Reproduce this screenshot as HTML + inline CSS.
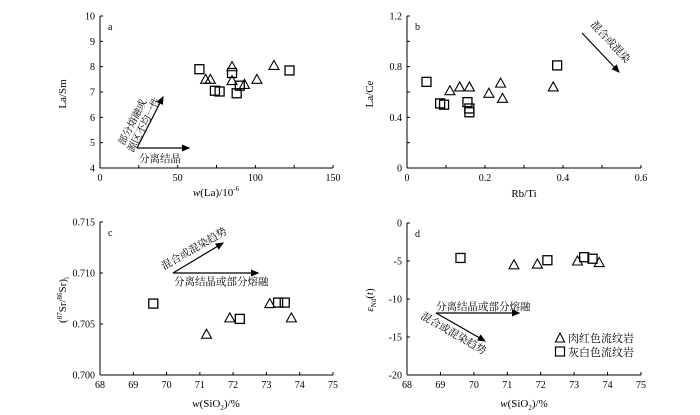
<!DOCTYPE html>
<html><head><meta charset="utf-8"><style>
body{margin:0;background:#fff}
svg{display:block;font-family:"Liberation Serif","Noto Serif CJK SC",serif}
</style></head><body>
<svg id="s" width="700" height="415" viewBox="0 0 700 415">
</svg>
<script>
// Panel a
const aTriX=[68,71,85,85,93,101,112], aTriY=[7.5,7.5,8.0,7.45,7.3,7.5,8.05];
const aSqX=[64,74,77,85,90,88,122], aSqY=[7.9,7.05,7.02,7.75,7.25,6.95,7.85];
const aXT=[0,50,100,150], aYT=[4,5,6,7,8,9,10];
// Panel b
const bTriX=[0.11,0.135,0.16,0.21,0.24,0.245,0.375], bTriY=[0.61,0.64,0.64,0.59,0.67,0.55,0.64];
const bSqX=[0.05,0.085,0.095,0.155,0.16,0.16,0.385], bSqY=[0.68,0.51,0.50,0.52,0.47,0.44,0.81];
const bXT=[0,0.2,0.4,0.6], bXTL=["0","0.2","0.4","0.6"], bYT=[0,0.4,0.8,1.2], bYTL=["0","0.4","0.8","1.2"];
// Panel c
const cTriX=[71.2,71.9,73.1,73.75], cTriY=[0.704,0.7056,0.707,0.7056];
const cSqX=[69.6,72.2,73.35,73.55], cSqY=[0.707,0.7055,0.7071,0.7071];
const cXT=[68,69,70,71,72,73,74,75], cYT=[0.700,0.705,0.710,0.715], cYTL=["0.700","0.705","0.710","0.715"];
// Panel d
const dTriX=[71.2,71.9,73.1,73.75], dTriY=[-5.5,-5.4,-5.0,-5.2];
const dSqX=[69.6,72.2,73.3,73.55], dSqY=[-4.6,-4.9,-4.5,-4.7];
const dXT=[68,69,70,71,72,73,74,75], dYT=[-20,-15,-10,-5,0];

const svg=document.getElementById('s');const NS='http://www.w3.org/2000/svg';
function el(t,a,txt,name){const e=document.createElementNS(NS,t);for(const k in a)e.setAttribute(k,a[k]);if(txt!=null)e.textContent=txt;


svg.appendChild(e);return e;}
function panel(p){
 const X=v=>p.x0+(v-p.xmin)/(p.xmax-p.xmin)*(p.x1-p.x0);
 const Y=v=>p.y1-(v-p.ymin)/(p.ymax-p.ymin)*(p.y1-p.y0);
 el('line',{x1:p.x0,y1:p.y0,x2:p.x0,y2:p.y1,stroke:'#000'},null,p.id+'-y-axis');
 el('line',{x1:p.x0,y1:p.y1,x2:p.x1,y2:p.y1,stroke:'#000'},null,p.id+'-x-axis');
 p.xt.forEach((v,i)=>{const x=X(v);el('line',{x1:x,y1:p.y1,x2:x,y2:p.y1-3,stroke:'#000'},null,p.id+'-x-tick');
  el('text',{x:x,y:p.y1+13,'font-size':10,'text-anchor':'middle'},p.xtl?p.xtl[i]:String(v),p.id+'-x-tick-label');});
 if(p.xminor)p.xminor.forEach(v=>{const x=X(v);el('line',{x1:x,y1:p.y1,x2:x,y2:p.y1-3,stroke:'#000'},null,p.id+'-x-minor-tick');});
 p.yt.forEach((v,i)=>{const y=Y(v);el('line',{x1:p.x0,y1:y,x2:p.x0+3,y2:y,stroke:'#000'},null,p.id+'-y-tick');
  el('text',{x:p.x0-5,y:y+3.5,'font-size':10,'text-anchor':'end'},p.ytl?p.ytl[i]:String(v),p.id+'-y-tick-label');});
 if(p.yminor)p.yminor.forEach(v=>{const y=Y(v);el('line',{x1:p.x0,y1:y,x2:p.x0+3,y2:y,stroke:'#000'},null,p.id+'-y-minor-tick');});
 el('text',{x:p.x0+8,y:p.y0+14,'font-size':10},p.id,'panel-label-'+p.id);
 p.tx.forEach((v,i)=>{const x=X(v),y=Y(p.ty[i]);el('polygon',{points:`${x},${y-5} ${x-5},${y+4} ${x+5},${y+4}`,fill:'none',stroke:'#000','stroke-width':1.1},null,p.id+'-triangle-point');});
 p.sx.forEach((v,i)=>{const x=X(v),y=Y(p.sy[i]);el('rect',{x:x-4.5,y:y-4.5,width:9,height:9,fill:'none',stroke:'#000','stroke-width':1.3},null,p.id+'-square-point');});
}
panel({id:'a',x0:100,x1:333,y0:16,y1:168,xmin:0,xmax:150,ymin:4,ymax:10,xt:aXT,yt:aYT,xminor:[25,75,125],tx:aTriX,ty:aTriY,sx:aSqX,sy:aSqY});
panel({id:'b',x0:407,x1:641,y0:16,y1:168,xmin:0,xmax:0.6,ymin:0,ymax:1.2,xt:bXT,xtl:bXTL,yt:bYT,ytl:bYTL,xminor:[0.1,0.3,0.5],yminor:[0.2,0.6,1.0],tx:bTriX,ty:bTriY,sx:bSqX,sy:bSqY});
panel({id:'c',x0:100,x1:333,y0:222,y1:375,xmin:68,xmax:75,ymin:0.700,ymax:0.715,xt:cXT,yt:cYT,ytl:cYTL,tx:cTriX,ty:cTriY,sx:cSqX,sy:cSqY});
panel({id:'d',x0:407,x1:641,y0:223,y1:375,xmin:68,xmax:75,ymin:-20,ymax:0,xt:dXT,yt:dYT,tx:dTriX,ty:dTriY,sx:dSqX,sy:dSqY});
</script>
<svg width="700" height="415" style="position:absolute;left:0;top:0" font-family="Liberation Serif, Noto Serif CJK SC, serif">
<defs><marker id="ah2" markerWidth="7" markerHeight="6" refX="6" refY="3" orient="auto"><path d="M0,0 L7,3 L0,6z" fill="#000"/></marker></defs>
<g font-size="11">
<text x="216" y="196" text-anchor="middle"><tspan font-style="italic">w</tspan>(La)/10<tspan font-size="7" dy="-5">-6</tspan></text>
<text transform="translate(66,94) rotate(-90)" text-anchor="middle">La/Sm</text>
<text x="524" y="197" text-anchor="middle">Rb/Ti</text>
<text transform="translate(373,94) rotate(-90)" text-anchor="middle">La/Ce</text>
<text x="216" y="407" text-anchor="middle"><tspan font-style="italic">w</tspan>(SiO<tspan font-size="7" dy="3">2</tspan><tspan dy="-3">)/%</tspan></text>
<text transform="translate(66,300) rotate(-90)" text-anchor="middle">(<tspan font-size="7" dy="-4">87</tspan><tspan dy="4">Sr/</tspan><tspan font-size="7" dy="-4">86</tspan><tspan dy="4">Sr)</tspan><tspan font-size="7" dy="3">i</tspan></text>
<text x="524" y="407" text-anchor="middle"><tspan font-style="italic">w</tspan>(SiO<tspan font-size="7" dy="3">2</tspan><tspan dy="-3">)/%</tspan></text>
<text transform="translate(373,300) rotate(-90)" text-anchor="middle"><tspan font-style="italic">ε</tspan><tspan font-size="7" dy="3">Nd</tspan><tspan dy="-3">(</tspan><tspan font-style="italic">t</tspan>)</text>
</g>
<g stroke="#000" stroke-width="1.2" marker-end="url(#ah2)">
<line x1="137" y1="148" x2="163" y2="97"/>
<line x1="137" y1="148" x2="189" y2="148"/>
<line x1="582" y1="33" x2="619" y2="72"/>
<line x1="173" y1="273" x2="223" y2="243"/>
<line x1="173" y1="273" x2="258" y2="273"/>
<line x1="436" y1="313" x2="519" y2="313"/>
<line x1="436" y1="313" x2="485" y2="341"/>
</g>
<g font-size="10.5" font-family="Noto Serif CJK SC, serif">
<text x="139" y="162">分离结晶</text>
<text transform="translate(124,146) rotate(-63)" font-size="10">部分熔融或</text>
<text transform="translate(133,153) rotate(-63)" font-size="10">源区不均一性</text>
<text transform="translate(590,25) rotate(47)">混合或混染</text>
<text transform="translate(164,270) rotate(-30)">混合或混染趋势</text>
<text x="174" y="285">分离结晶或部分熔融</text>
<text x="436" y="310">分离结晶或部分熔融</text>
<text transform="translate(420,318) rotate(30)">混合或混染趋势</text>
</g>
<g>
<polygon points="560,333 555.5,342 564.5,342" fill="none" stroke="#000" stroke-width="1.1"/>
<text x="568" y="342" font-size="11" font-family="Noto Serif CJK SC, serif">肉红色流纹岩</text>
<rect x="555.5" y="347" width="9" height="9" fill="none" stroke="#000" stroke-width="1.2"/>
<text x="568" y="356" font-size="11" font-family="Noto Serif CJK SC, serif">灰白色流纹岩</text>
</g>
</svg>
</body></html>
